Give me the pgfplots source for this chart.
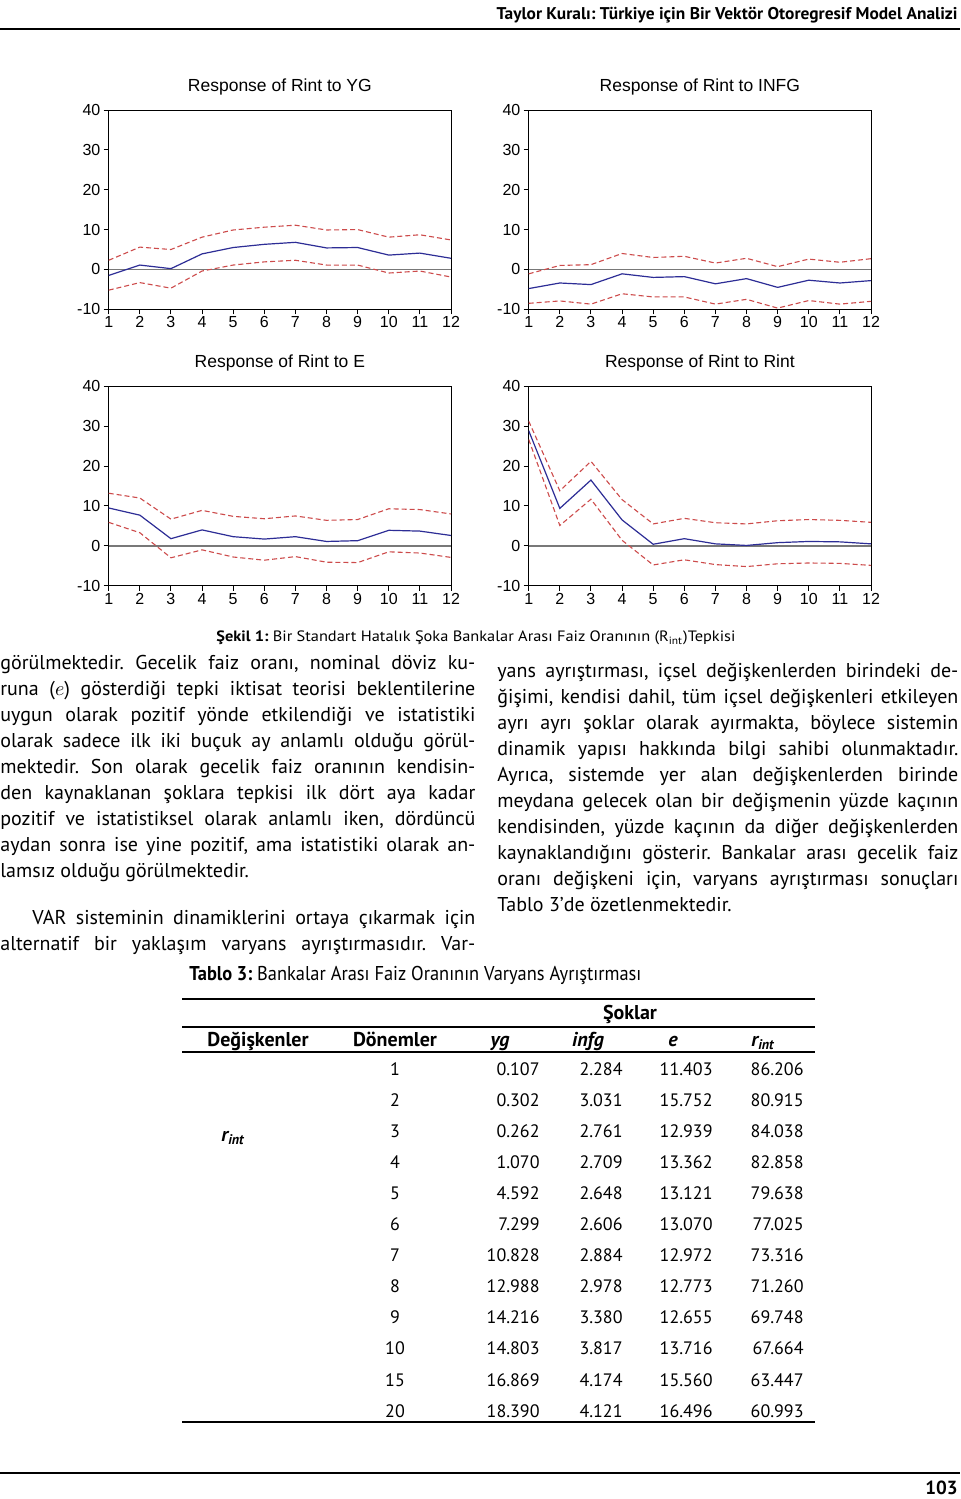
\documentclass[border=0pt]{standalone}
\usepackage{fontspec}
\setmainfont{PT Sans}
\newfontfamily\arialf{Liberation Sans}
\usepackage{graphicx}
\usepackage{pgfplots}
\usepackage{pgfplotstable}
\pgfplotsset{compat=1.18}
\frenchspacing

\definecolor{irfblue}{RGB}{45,45,150}
\definecolor{irfred}{RGB}{205,75,75}
\definecolor{zerogray}{RGB}{120,120,120}

\pgfplotstableread{
h blue up lo
1 -1.5 2.3 -5.2
2 1.1 5.6 -3.3
3 0.2 5.0 -4.7
4 3.9 8.1 -0.4
5 5.5 9.9 1.1
6 6.3 10.6 1.9
7 6.8 11.1 2.3
8 5.4 9.9 1.1
9 5.5 10.0 1.1
10 3.6 8.1 -0.9
11 4.1 8.7 -0.4
12 2.8 7.4 -1.9
}\tYG
\pgfplotstableread{
h blue up lo
1 -4.8 -1.1 -8.5
2 -3.4 1.0 -7.9
3 -3.8 1.2 -8.7
4 -1.1 4.0 -6.1
5 -2.0 3.0 -6.9
6 -1.8 3.3 -6.9
7 -3.6 1.6 -8.7
8 -2.3 2.8 -7.5
9 -4.5 0.7 -9.7
10 -2.7 2.6 -7.8
11 -3.4 1.8 -8.7
12 -2.8 2.7 -8.0
}\tINFG
\pgfplotstableread{
h blue up lo
1 9.5 13.2 5.9
2 7.7 12.0 3.3
3 1.8 6.7 -3.0
4 4.0 8.9 -1.0
5 2.3 7.4 -2.8
6 1.7 6.8 -3.6
7 2.3 7.5 -2.7
8 1.1 6.4 -4.1
9 1.3 6.6 -4.2
10 3.9 9.3 -1.5
11 3.7 9.1 -1.8
12 2.6 8.0 -2.9
}\tE
\pgfplotstableread{
h blue up lo
1 28.9 31.3 26.7
2 9.4 13.8 5.1
3 16.5 21.2 11.7
4 6.5 11.6 1.4
5 0.4 5.5 -4.8
6 1.8 6.9 -3.5
7 0.5 5.8 -4.7
8 0.1 5.5 -5.2
9 0.8 6.3 -4.5
10 1.1 6.6 -4.3
11 1.0 6.4 -4.4
12 0.5 5.9 -4.9
}\tR

\pgfplotsset{irf/.style={
  scale only axis, width=171.15pt, height=99.65pt,
  anchor=south west,
  xmin=1, xmax=12, ymin=-10, ymax=40,
  xtick={1,2,3,4,5,6,7,8,9,10,11,12},
  xticklabels={1,2,3,4,5,6,7,8,9,10,11,12},
  ytick={-10,0,10,20,30,40},
  yticklabels={-10,0,10,20,30,40},
  tick align=outside, xtick pos=left, ytick pos=left,
  major tick length=2.5pt,
  tick style={black, line width=0.5pt},
  axis line style={black, line width=0.5pt},
  ticklabel style={font=\arialf\fontsize{8}{9}\selectfont, inner sep=0pt},
  yticklabel style={anchor=east, xshift=-1.5pt},
  xticklabel style={anchor=north, yshift=-1pt},
  title style={font=\arialf\fontsize{8.75}{10}\selectfont, anchor=base, at={(0.5,1)}, yshift=3.35pt, inner sep=0pt},
}}
\newcommand\irfplots[1]{%
  \addplot[zerogray, line width=0.8pt] coordinates {(1,0) (12,0)};
  \addplot[irfred, line width=0.55pt, dash pattern=on 2.5pt off 1.5pt] table[x=h,y=up] {#1};
  \addplot[irfred, line width=0.55pt, dash pattern=on 2.5pt off 1.5pt] table[x=h,y=lo] {#1};
  \addplot[irfblue, line width=0.6pt] table[x=h,y=blue] {#1};
}
\newcommand\JL[2]{\makebox[#1][s]{#2}}
\tikzset{body/.style={anchor=base west, inner sep=0pt, font=\fontsize{10}{13}\selectfont},
  tn/.style={inner sep=0pt, font=\fontsize{9}{10}\selectfont}}

\begin{document}
\begin{tikzpicture}
\fill[white] (0,0) rectangle (480pt,-749.5pt);
\useasboundingbox (0,0) rectangle (480pt,-749.5pt);

% header
\node[anchor=base east, inner sep=0pt] at (479pt,-9.5pt) {\resizebox{230.5pt}{\height}{\fontsize{8.5}{10}\selectfont\bfseries Taylor Kuralı: Türkiye için Bir Vektör Otoregresif Model Analizi}};
\draw[line width=1pt] (0,-14.4pt) -- (480pt,-14.4pt);

% charts
\begin{axis}[irf, at={(54.35pt,-154.65pt)}, title={Response of Rint to YG}]
\irfplots{\tYG}
\end{axis}
\begin{axis}[irf, at={(264.35pt,-154.65pt)}, title={Response of Rint to INFG}]
\irfplots{\tINFG}
\end{axis}
\begin{axis}[irf, at={(54.35pt,-292.85pt)}, title={Response of Rint to E}]
\irfplots{\tE}
\end{axis}
\begin{axis}[irf, at={(264.35pt,-292.85pt)}, title={Response of Rint to Rint}]
\irfplots{\tR}
\end{axis}

% caption
\node[anchor=base west, inner sep=0pt] at (108pt,-320.9pt) {\resizebox{259.5pt}{\height}{\fontsize{7.5}{9}\selectfont\textbf{Şekil 1:} Bir Standart Hatalık Şoka Bankalar Arası Faiz Oranının (R\textsubscript{int})Tepkisi}};

% left column
\node[body] at (0pt,-334.5pt) {\JL{237.5pt}{görülmektedir. Gecelik faiz oranı, nominal döviz ku-}};
\node[body] at (0pt,-347.5pt) {\JL{237.5pt}{runa ($e$) gösterdiği tepki iktisat teorisi beklentilerine}};
\node[body] at (0pt,-360.5pt) {\JL{237.5pt}{uygun olarak pozitif yönde etkilendiği ve istatistiki}};
\node[body] at (0pt,-373.5pt) {\JL{237.5pt}{olarak sadece ilk iki buçuk ay anlamlı olduğu görül-}};
\node[body] at (0pt,-386.5pt) {\JL{237.5pt}{mektedir. Son olarak gecelik faiz oranının kendisin-}};
\node[body] at (0pt,-399.5pt) {\JL{237.5pt}{den kaynaklanan şoklara tepkisi ilk dört aya kadar}};
\node[body] at (0pt,-412.5pt) {\JL{237.5pt}{pozitif ve istatistiksel olarak anlamlı iken, dördüncü}};
\node[body] at (0pt,-425.5pt) {\JL{237.5pt}{aydan sonra ise yine pozitif, ama istatistiki olarak an-}};
\node[body] at (0pt,-438.5pt) {lamsız olduğu görülmektedir.};
\node[body] at (16pt,-462pt) {\JL{221.5pt}{VAR sisteminin dinamiklerini ortaya çıkarmak için}};
\node[body] at (0pt,-475pt) {\JL{237.5pt}{alternatif bir yaklaşım varyans ayrıştırmasıdır. Var-}};

% right column
\node[body] at (248.5pt,-338.5pt) {\JL{230.5pt}{yans ayrıştırması, içsel değişkenlerden birindeki de-}};
\node[body] at (248.5pt,-351.5pt) {\JL{230.5pt}{ğişimi, kendisi dahil, tüm içsel değişkenleri etkileyen}};
\node[body] at (248.5pt,-364.5pt) {\JL{230.5pt}{ayrı ayrı şoklar olarak ayırmakta, böylece sistemin}};
\node[body] at (248.5pt,-377.5pt) {\JL{230.5pt}{dinamik yapısı hakkında bilgi sahibi olunmaktadır.}};
\node[body] at (248.5pt,-390.5pt) {\JL{230.5pt}{Ayrıca, sistemde yer alan değişkenlerden birinde}};
\node[body] at (248.5pt,-403.5pt) {\JL{230.5pt}{meydana gelecek olan bir değişmenin yüzde kaçının}};
\node[body] at (248.5pt,-416.5pt) {\JL{230.5pt}{kendisinden, yüzde kaçının da diğer değişkenlerden}};
\node[body] at (248.5pt,-429.5pt) {\JL{230.5pt}{kaynaklandığını gösterir. Bankalar arası gecelik faiz}};
\node[body] at (248.5pt,-442.5pt) {\JL{230.5pt}{oranı değişkeni için, varyans ayrıştırması sonuçları}};
\node[body] at (248.5pt,-455.5pt) {Tablo 3’de özetlenmektedir.};

% table
\node[anchor=base west, inner sep=0pt] at (94.5pt,-490pt) {\resizebox{226pt}{\height}{\fontsize{10}{12}\selectfont\textbf{Tablo 3:} Bankalar Arası Faiz Oranının Varyans Ayrıştırması}};
\draw[line width=1pt] (91pt,-499.5pt) -- (407.5pt,-499.5pt);
\draw[line width=0.6pt] (91pt,-513.5pt) -- (407.5pt,-513.5pt);
\draw[line width=1pt] (91pt,-526pt) -- (407.5pt,-526pt);
\draw[line width=1pt] (91pt,-710.8pt) -- (407.5pt,-710.8pt);
\begin{scope}[every node/.style={tn, anchor=base, font=\fontsize{10}{11}\selectfont\bfseries}]
\node at (315pt,-509.5pt) {Şoklar};
\node at (129pt,-523pt) {Değişkenler};
\node at (197.5pt,-523pt) {Dönemler};
\node at (250pt,-523pt) {\itshape yg};
\node at (294pt,-523pt) {\itshape infg};
\node at (336.5pt,-523pt) {\itshape e};
\node at (381.5pt,-523pt) {\itshape r\textsubscript{int}};
\node at (116.5pt,-570.5pt) {\itshape r\textsubscript{int}};
\end{scope}
\foreach \p/\a/\b/\c/\d [count=\i from 0] in {
 1/0.107/2.284/11.403/86.206,
 2/0.302/3.031/15.752/80.915,
 3/0.262/2.761/12.939/84.038,
 4/1.070/2.709/13.362/82.858,
 5/4.592/2.648/13.121/79.638,
 6/7.299/2.606/13.070/77.025,
 7/10.828/2.884/12.972/73.316,
 8/12.988/2.978/12.773/71.260,
 9/14.216/3.380/12.655/69.748,
 10/14.803/3.817/13.716/67.664,
 15/16.869/4.174/15.560/63.447,
 20/18.390/4.121/16.496/60.993}{
 \pgfmathsetmacro\yy{-(1075+31.1*\i)/2}
 \node[tn, anchor=base] at (197.5pt,\yy pt) {\p};
 \node[tn, anchor=base east] at (270pt,\yy pt) {\a};
 \node[tn, anchor=base east] at (311.5pt,\yy pt) {\b};
 \node[tn, anchor=base east] at (356.5pt,\yy pt) {\c};
 \node[tn, anchor=base east] at (402pt,\yy pt) {\d};
}

% footer
\draw[line width=1pt] (0,-736.5pt) -- (480pt,-736.5pt);
\node[anchor=base east, inner sep=0pt, font=\fontsize{9.5}{11}\selectfont\bfseries] at (479pt,-747pt) {103};
\end{tikzpicture}
\end{document}
